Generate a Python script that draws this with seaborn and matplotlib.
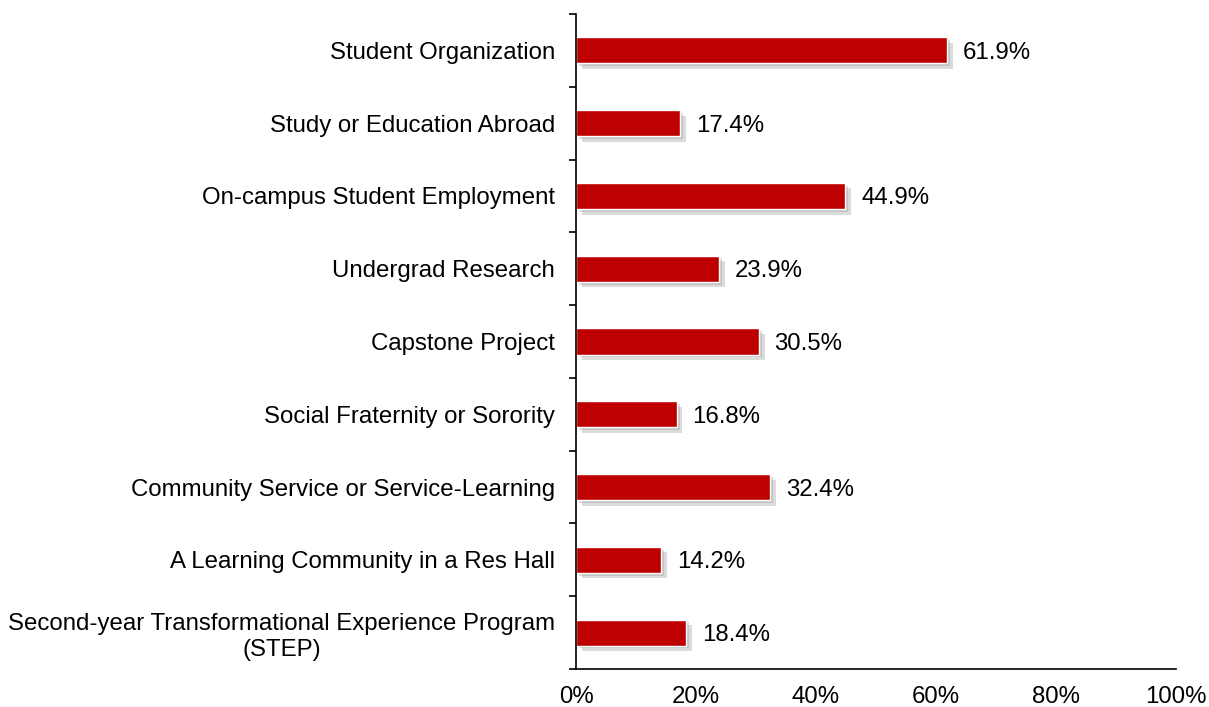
import matplotlib
matplotlib.use("Agg")
import matplotlib.pyplot as plt
import matplotlib.patheffects as pe
from matplotlib.ticker import FixedLocator, PercentFormatter
import seaborn as sns
import pandas as pd

# Chart data
categories = [
    "Student Organization",
    "Study or Education Abroad",
    "On-campus Student Employment",
    "Undergrad Research",
    "Capstone Project",
    "Social Fraternity or Sorority",
    "Community Service or Service-Learning",
    "A Learning Community in a Res Hall",
    "Second-year Transformational Experience Program\n(STEP)",
]
percents = [61.9, 17.4, 44.9, 23.9, 30.5, 16.8, 32.4, 14.2, 18.4]

df = pd.DataFrame({"activity": categories, "pct": percents})

sns.set_style("white")
plt.rcParams["font.family"] = ["Liberation Sans", "DejaVu Sans"]
plt.rcParams["text.color"] = "black"
plt.rcParams["xtick.color"] = "black"
plt.rcParams["ytick.color"] = "black"

FS = 17.3

fig = plt.figure(figsize=(12.09, 7.07), dpi=100)
ax = fig.add_axes([576 / 1209, 1 - 669 / 707, 600 / 1209, 655 / 707])

sns.barplot(data=df, x="pct", y="activity", orient="h", color="#BE0000",
            saturation=1, width=0.36, ax=ax)

# soft drop shadow under each bar
for bar in ax.patches:
    bar.set_path_effects([
        pe.SimplePatchShadow(offset=(4, -4), shadow_rgbFace="#9a9a9a", alpha=0.35),
        pe.SimplePatchShadow(offset=(2, -2), shadow_rgbFace="#9a9a9a", alpha=0.35),
        pe.Normal(),
    ])

for i, v in enumerate(percents):
    ax.text(v + 2.6, i, f"{v:.1f}%", va="center_baseline", ha="left", fontsize=FS, color="black")

ax.set_xlim(0, 100)
ax.set_ylim(len(categories) - 0.5, -0.5)
ax.xaxis.set_major_locator(FixedLocator([0, 20, 40, 60, 80, 100]))
ax.xaxis.set_major_formatter(PercentFormatter(decimals=0))
ax.set_xlabel("")
ax.set_ylabel("")

for s in ["top", "right"]:
    ax.spines[s].set_visible(False)
for s in ["left", "bottom"]:
    ax.spines[s].set_color("black")
    ax.spines[s].set_linewidth(1.2)

ax.tick_params(axis="x", direction="out", length=5, width=1.2, color="black",
               labelsize=FS, labelcolor="black", pad=7)
ax.tick_params(axis="y", which="major", length=0, labelsize=FS, labelcolor="black", pad=15)
ax.yaxis.set_minor_locator(FixedLocator([i - 0.5 for i in range(len(categories) + 1)]))
ax.tick_params(axis="y", which="minor", direction="out", length=5, width=1.2,
               color="black", left=True)
for lab in ax.get_yticklabels():
    lab.set_multialignment("center")

fig.savefig("out.png", dpi=100)
